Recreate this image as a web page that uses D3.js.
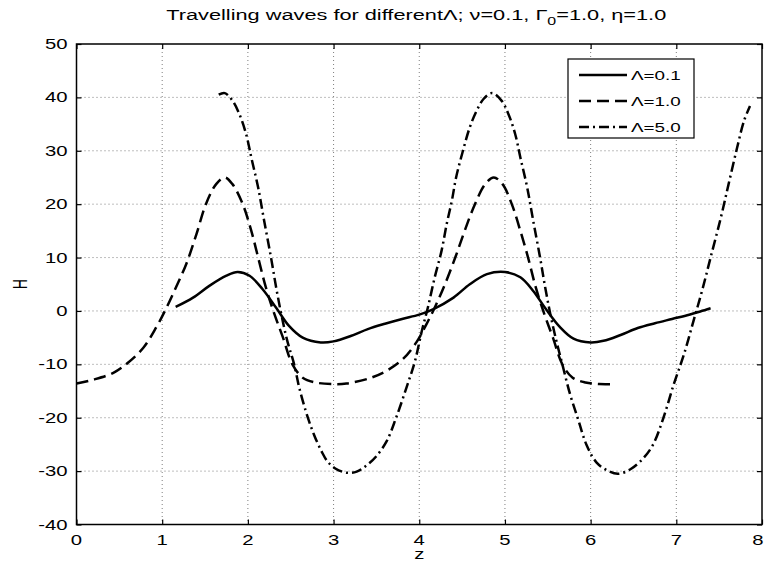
<!DOCTYPE html>
<html>
<head>
<meta charset="utf-8">
<script src="https://cdn.jsdelivr.net/npm/d3@7"></script>
<style>
  html, body { margin: 0; padding: 0; background: #fff; }
  svg { display: block; }
  text { font-family: "Liberation Sans", Arial, Helvetica, sans-serif; fill: #000; }
</style>
</head>
<body>
<svg id="chart" width="764" height="564"></svg>
<script>
// Axis ranges and tick labels
const xTicks = [0, 1, 2, 3, 4, 5, 6, 7, 8];
const yTicks = [-40, -30, -20, -10, 0, 10, 20, 30, 40, 50];

// Travelling wave profiles H(z) for three values of Lambda
const seriesNames = ["Λ=0.1", "Λ=1.0", "Λ=5.0"];

const waveL01 = [
  [1.157, 0.75], [1.36, 2.5], [1.55, 4.7], [1.75, 6.6], [1.88, 7.3], [2.02, 6.6],
  [2.17, 4.1], [2.33, 0.6], [2.48, -2.8], [2.64, -5.0], [2.85, -5.9], [3.0, -5.7],
  [3.2, -4.7], [3.4, -3.4], [3.6, -2.4], [3.8, -1.5], [4.0, -0.7], [4.16, 0.3],
  [4.40, 2.5], [4.59, 5.0], [4.79, 6.9], [5.0, 7.3], [5.18, 6.3], [5.33, 3.75],
  [5.48, 0.3], [5.64, -3.0], [5.80, -5.2], [6.0, -5.9], [6.15, -5.6], [6.35, -4.5],
  [6.55, -3.2], [6.75, -2.3], [6.95, -1.5], [7.15, -0.7], [7.28, -0.1], [7.40, 0.5]
];

const waveL10 = [
  [0, -13.6], [0.19, -12.9], [0.43, -11.6], [0.6, -9.7], [0.78, -6.9], [0.93, -3.1],
  [1.05, 0.6], [1.16, 4.4], [1.28, 8.75], [1.40, 14.4], [1.51, 20], [1.63, 23.75],
  [1.73, 25], [1.82, 23.75], [1.94, 20], [2.04, 15], [2.12, 10], [2.21, 4.4],
  [2.31, -0.6], [2.41, -5], [2.52, -10], [2.64, -12.5], [2.79, -13.4], [3.0, -13.7],
  [3.15, -13.6], [3.42, -12.6], [3.62, -11.2], [3.81, -9], [3.97, -5.8], [4.08, -2.6],
  [4.18, 0.6], [4.30, 5], [4.42, 10], [4.53, 15], [4.65, 20], [4.77, 23.75],
  [4.87, 25], [4.97, 23.8], [5.08, 20], [5.18, 15], [5.27, 10], [5.36, 4.4],
  [5.46, -0.6], [5.56, -5], [5.67, -10], [5.79, -12.5], [5.94, -13.4], [6.1, -13.7],
  [6.28, -13.7]
];

const waveL50 = [
  [1.66, 40.5], [1.73, 40.8], [1.82, 39.4], [1.90, 36.9], [1.98, 33.1], [2.04, 28.75],
  [2.12, 23.1], [2.19, 16.9], [2.27, 10], [2.33, 4.4], [2.39, -0.6], [2.46, -5.6],
  [2.54, -10], [2.6, -14.4], [2.7, -20], [2.78, -23.5], [2.86, -26.3], [2.93, -28.2],
  [3.02, -29.5], [3.15, -30.3], [3.27, -30.1], [3.38, -29], [3.50, -27.2], [3.62, -24.4],
  [3.73, -20], [3.85, -14.4], [3.95, -9.4], [4.03, -3.75], [4.10, 0.6], [4.18, 6.25],
  [4.26, 11.25], [4.32, 16.25], [4.38, 20.6], [4.43, 25], [4.51, 30], [4.59, 34.4],
  [4.67, 37.5], [4.75, 39.7], [4.85, 40.8], [4.96, 39.4], [5.04, 36.9], [5.12, 33.1],
  [5.18, 28.75], [5.26, 23.1], [5.33, 16.9], [5.41, 10], [5.47, 4.4], [5.53, -0.6],
  [5.60, -5.6], [5.67, -10], [5.76, -15.6], [5.86, -20.6], [5.95, -25], [6.07, -28.4],
  [6.21, -30], [6.32, -30.5], [6.46, -29.7], [6.62, -27.5], [6.73, -25], [6.85, -20],
  [6.97, -13.75], [7.09, -8.1], [7.2, -1.9], [7.3, 3.75], [7.40, 10], [7.52, 17.5],
  [7.61, 23.75], [7.71, 30.6], [7.79, 35.6], [7.86, 38.4]
];

const titleMain = "Travelling waves for differentΛ; ν=0.1, Γ";
const titleSub = "0";
const titleEnd = "=1.0, η=1.0";
const xLabel = "z";
const yLabel = "H";

// Layout
const svg = d3.select("#chart");
const plot = { left: 76.5, right: 762, top: 44, bottom: 524.5 };
const textStretch = 1.45;   // horizontal widening of all lettering

const x = d3.scaleLinear().domain([0, 8]).range([plot.left, plot.right]);
const y = d3.scaleLinear().domain([-40, 50]).range([plot.bottom, plot.top]);

// Dotted grid
const grid = svg.append("g").attr("stroke", "#000").attr("stroke-width", 1)
  .attr("stroke-dasharray", "1,3").attr("opacity", 0.5);
xTicks.slice(1, -1).forEach(t => {
  grid.append("line").attr("x1", x(t)).attr("x2", x(t))
    .attr("y1", plot.top).attr("y2", plot.bottom);
});
yTicks.slice(1, -1).forEach(t => {
  grid.append("line").attr("x1", plot.left).attr("x2", plot.right)
    .attr("y1", y(t)).attr("y2", y(t));
});

// Axes with inward ticks on all four sides
const tickLen = 5;
const axB = svg.append("g").attr("transform", `translate(0,${plot.bottom})`)
  .call(d3.axisBottom(x).tickValues(xTicks).tickSize(-tickLen).tickFormat(""));
const axT = svg.append("g").attr("transform", `translate(0,${plot.top})`)
  .call(d3.axisTop(x).tickValues(xTicks).tickSize(-tickLen).tickFormat(""));
const axL = svg.append("g").attr("transform", `translate(${plot.left},0)`)
  .call(d3.axisLeft(y).tickValues(yTicks).tickSize(-tickLen).tickFormat(""));
const axR = svg.append("g").attr("transform", `translate(${plot.right},0)`)
  .call(d3.axisRight(y).tickValues(yTicks).tickSize(-tickLen).tickFormat(""));
[axB, axT, axL, axR].forEach(a => {
  a.select(".domain").remove();
  a.selectAll(".tick line").attr("stroke", "#000").attr("stroke-width", 1.2);
});

// Stretched text helper
function label(g, str, px, py, anchor, size) {
  return g.append("text")
    .attr("transform", `translate(${px},${py}) scale(${textStretch},1)`)
    .attr("text-anchor", anchor)
    .attr("font-size", size)
    .text(str);
}

// Tick labels (the last x label is kept inside the right edge)
const lab = svg.append("g");
xTicks.forEach((t, i) => {
  const last = i === xTicks.length - 1;
  label(lab, String(t), last ? 763.5 : x(t), plot.bottom + 20, last ? "end" : "middle", 14);
});
yTicks.forEach(t => label(lab, String(t), plot.left - 9, y(t) + 5, "end", 14));

// Axis titles
label(lab, xLabel, (plot.left + plot.right) / 2, 559, "middle", 14);
lab.append("text")
  .attr("transform", `translate(27,${(plot.top + plot.bottom) / 2}) scale(${textStretch},1) rotate(-90)`)
  .attr("text-anchor", "middle").attr("font-size", 14).text(yLabel);

// Title with subscript
const title = lab.append("text")
  .attr("transform", `translate(${(plot.left + plot.right) / 2 - 3},20) scale(${textStretch},1)`)
  .attr("text-anchor", "middle").attr("font-size", 15);
title.append("tspan").text(titleMain);
title.append("tspan").attr("font-size", 11).attr("dy", 5).text(titleSub);
title.append("tspan").attr("dy", -5).text(titleEnd);

// Curves
const styles = [
  { data: waveL01, dash: null },
  { data: waveL10, dash: "12,6" },
  { data: waveL50, dash: "10,4,2,4" }
];
const line = d3.line().x(d => x(d[0])).y(d => y(d[1])).curve(d3.curveCatmullRom.alpha(0.5));
const curves = svg.append("g");
styles.forEach(s => {
  curves.append("path").datum(s.data)
    .attr("fill", "none").attr("stroke", "#000").attr("stroke-width", 2.5)
    .attr("stroke-dasharray", s.dash)
    .attr("d", line);
});

// Frame
svg.append("rect")
  .attr("x", plot.left).attr("y", plot.top)
  .attr("width", plot.right - plot.left).attr("height", plot.bottom - plot.top)
  .attr("fill", "none").attr("stroke", "#000").attr("stroke-width", 1.5);

// Legend
const leg = svg.append("g");
leg.append("rect").attr("x", 568).attr("y", 59).attr("width", 126).attr("height", 79)
  .attr("fill", "#fff").attr("stroke", "#000").attr("stroke-width", 1.2);
const rowY = [75, 101, 127];
styles.forEach((s, i) => {
  leg.append("line").attr("x1", 579).attr("x2", 627).attr("y1", rowY[i]).attr("y2", rowY[i])
    .attr("stroke", "#000").attr("stroke-width", 2.5).attr("stroke-dasharray", s.dash);
  label(leg, seriesNames[i], 631, rowY[i] + 5, "start", 13);
});
</script>
</body>
</html>
